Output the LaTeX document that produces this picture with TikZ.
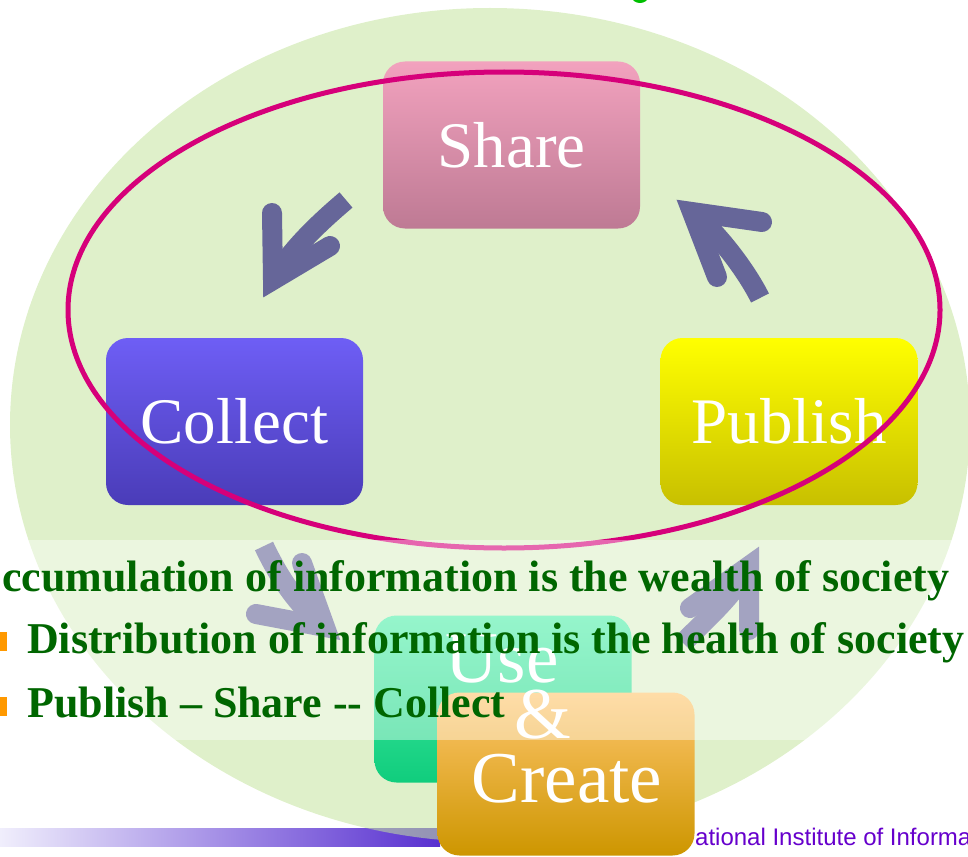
\documentclass[tikz,border=0pt]{standalone}
\usepackage{fontspec}
\setmainfont{Liberation Serif}
\newfontfamily\footfont{Liberation Sans}
\definecolor{ellgreen}{RGB}{196,228,158}
\definecolor{pinkline}{RGB}{214,0,122}
\definecolor{arrowc}{RGB}{102,102,153}
\definecolor{dkgreen}{RGB}{0,102,0}
\definecolor{bulletorange}{RGB}{255,153,0}
\definecolor{footpurple}{RGB}{102,0,204}
\definecolor{sharetop}{RGB}{242,162,190}
\definecolor{sharebot}{RGB}{190,122,148}
\definecolor{colltop}{RGB}{110,94,245}
\definecolor{collbot}{RGB}{74,60,184}
\definecolor{pubtop}{RGB}{255,255,0}
\definecolor{pubbot}{RGB}{200,192,0}
\definecolor{usetop}{RGB}{80,240,170}
\definecolor{usebot}{RGB}{16,205,125}
\definecolor{cretop}{RGB}{255,198,110}
\definecolor{crebot}{RGB}{205,150,0}
\definecolor{barleft}{RGB}{240,238,252}
\definecolor{barright}{RGB}{88,48,208}
\begin{document}
\begin{tikzpicture}[x=1pt,y=-1pt,
  cyclebox/.style={rectangle, rounded corners=22pt, minimum width=257pt,
    minimum height=167pt, inner sep=0pt, text=white,
    font=\fontsize{65}{70}\selectfont},
  bigword/.style={text=white, inner sep=0pt, anchor=base,
    font=\fontsize{73}{78}\selectfont},
  shaft/.style={draw=arrowc, line width=20pt, line cap=butt},
  ahead/.style={draw=arrowc, line width=20pt, line cap=round,
    line join=miter, miter limit=10},
  bodytext/.style={text=dkgreen, inner sep=0pt, anchor=base west,
    font=\bfseries\fontsize{44}{48}\selectfont},
  bulletsq/.style={rectangle, fill=bulletorange, minimum size=19pt, inner sep=0pt}]
\useasboundingbox (0,0) rectangle (968,856);
\clip (0,0) rectangle (968,856);
% footer bar
\shade[left color=barleft, right color=barright] (0,828) rectangle (440,846);
% big green ellipse
\fill[ellgreen, opacity=0.55] (490,425) ellipse [x radius=480, y radius=417];
% small green mark at top
\fill[green!75!black] (640,-3) ellipse [x radius=8, y radius=6];
% upper boxes
\node[cyclebox, top color=sharetop, bottom color=sharebot] (share) at (511.5,145) {Share};
\node[cyclebox, top color=colltop, bottom color=collbot] (collect) at (234.5,421.5) {Collect};
\node[cyclebox, top color=pubtop, bottom color=pubbot] (publish) at (789,421.5) {Publish};
% arrows
\draw[shaft] (346,200) .. controls (320,222) and (290,250) .. (273,280);
\draw[ahead] (272,213) -- (273,280) -- (330,246);
\draw[shaft] (760,298) .. controls (745,268) and (715,230) .. (692,212);
\draw[ahead] (762,222) -- (692,212) -- (717,277);
\draw[shaft] (264,546) .. controls (280,580) and (300,608) .. (325,627);
\draw[ahead] (302,563) -- (325,627) -- (256,614);
\draw[shaft] (683,643) .. controls (705,620) and (735,595) .. (749,566);
\draw[ahead] (749,630) -- (749,566) -- (690,608);
% pink ellipse
\draw[pinkline, line width=5pt] (504,310) ellipse [x radius=436, y radius=238];
% footer text
\node[text=footpurple, anchor=base west, inner sep=0pt, font=\footfont\fontsize{24}{26}\selectfont] (foot) at (695,845) {ational Institute of Informa};
% lower boxes
\node[cyclebox, top color=usetop, bottom color=usebot] (use) at (503,699) {};
\node[cyclebox, top color=cretop, bottom color=crebot, minimum height=163pt] (create) at (566,774) {};
% translucent text panel
\fill[white, opacity=0.4] (0,540) rectangle (968,740);
% words of the lower boxes
\node[bigword] (w1) at (502,682) {Use};
\node[bigword] (w2) at (543,738) {\&};
\node[bigword] (w3) at (567,802) {Create};
% bullets and text
\node[bulletsq] (b2) at (-2.5,641.5) {};
\node[bulletsq] (b3) at (-2.5,706.5) {};
\node[bodytext] (t1) at (2,591) {ccumulation of information is the wealth of society};
\node[bodytext] (t2) at (27,653) {Distribution of information is the health of society};
\node[bodytext] (t3) at (27,717) {Publish – Share -{}- Collect};
\end{tikzpicture}
\end{document}
